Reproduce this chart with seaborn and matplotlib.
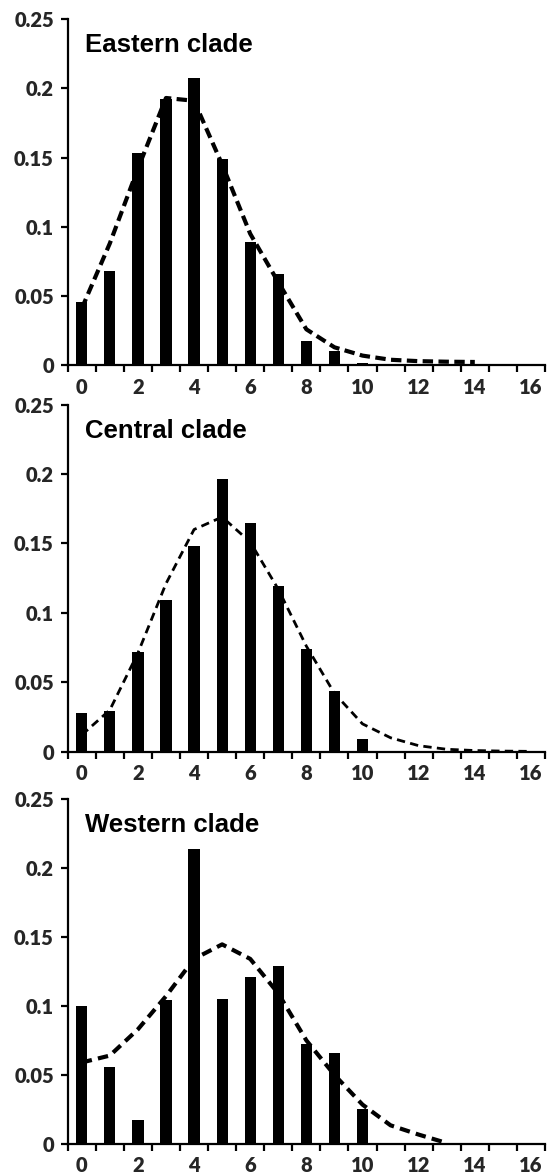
import numpy as np
import pandas as pd
import matplotlib
matplotlib.use("Agg")
import matplotlib.pyplot as plt
import seaborn as sns

# ---------------- data ----------------
categories = [str(i) for i in range(17)]
tick_labels = ["0", "2", "4", "6", "8", "10", "12", "14", "16"]
y_tick_labels = ["0", "0.05", "0.1", "0.15", "0.2", "0.25"]
y_tick_values = [0, 0.05, 0.1, 0.15, 0.2, 0.25]

panel_titles = ["Eastern clade", "Central clade", "Western clade"]

eastern_bars = [0.046, 0.068, 0.1535, 0.192, 0.2075, 0.149, 0.089, 0.066,
                0.0176, 0.0106, 0.0017, 0, 0, 0, 0, 0, 0]
eastern_fit = [0.041, 0.088, 0.142, 0.193, 0.191, 0.145, 0.095, 0.060,
               0.026, 0.013, 0.007, 0.004, 0.003, 0.0026, 0.0024]

central_bars = [0.028, 0.029, 0.072, 0.1094, 0.1483, 0.1964, 0.1647, 0.119,
                0.0738, 0.044, 0.009, 0, 0, 0, 0, 0, 0]
central_fit = [0.012, 0.030, 0.071, 0.121, 0.160, 0.169, 0.151, 0.117,
               0.076, 0.042, 0.020, 0.010, 0.0043, 0.0017, 0.0008, 0.0004, 0.0002]

western_bars = [0.100, 0.056, 0.017, 0.1042, 0.2132, 0.1047, 0.1206, 0.1288,
                0.0725, 0.066, 0.025, 0, 0, 0, 0, 0, 0]
western_fit = [0.059, 0.064, 0.083, 0.107, 0.134, 0.1445, 0.134, 0.109,
               0.075, 0.050, 0.0285, 0.0135, 0.0068, 0.0007]

bar_series = [eastern_bars, central_bars, western_bars]
fit_series = [eastern_fit, central_fit, western_fit]

# ---------------- style ----------------
line_widths = [3.0, 2.0, 3.0]
dash_patterns = [(2.5, 1.3), (3.0, 1.9), (2.5, 1.5)]

sns.set_theme(style="white")
plt.rcParams["font.family"] = ["Lato", "DejaVu Sans"]

fig = plt.figure(figsize=(5.5, 11.75), dpi=100)
left = 67.7 / 550
width = 477.3 / 550
axes_boxes = [
    (left, 0.6891, width, 0.2947),
    (left, 0.3603, width, 0.2954),
    (left, 0.0264, width, 0.2939),
]

for i, box in enumerate(axes_boxes):
    ax = fig.add_axes(box)
    df_bar = pd.DataFrame({"cat": categories, "freq": bar_series[i]})
    sns.barplot(data=df_bar, x="cat", y="freq", color="black", width=0.4,
                saturation=1, ax=ax, order=categories, linewidth=0)
    fit = fit_series[i]
    df_fit = pd.DataFrame({"pos": np.arange(len(fit)), "fit": fit})
    sns.lineplot(data=df_fit, x="pos", y="fit", ax=ax, color="black",
                 linewidth=line_widths[i], zorder=5)
    ax.lines[-1].set_dashes(dash_patterns[i])
    ax.lines[-1].set_dash_capstyle("butt")

    ax.set_xlim(-0.5, 16.5)
    ax.set_ylim(0, 0.25)
    ax.set_xlabel("")
    ax.set_ylabel("")

    # labels at even categories, ticks at category boundaries
    ax.set_xticks(np.arange(0, 17, 2))
    ax.set_xticklabels(tick_labels, fontsize=14.5, fontweight="heavy")
    ax.set_xticks(np.arange(-0.5, 17, 1), minor=True)
    ax.tick_params(axis="x", which="major", length=0, pad=9)
    ax.tick_params(axis="x", which="minor", length=5, width=1.6,
                   direction="out", bottom=True, color="black")

    ax.set_yticks(y_tick_values)
    ax.set_yticklabels(y_tick_labels, fontsize=14.5, fontweight="heavy")
    ax.tick_params(axis="y", which="major", length=5, width=1.6,
                   direction="out", left=True, color="black", pad=5)

    for s in ["top", "right"]:
        ax.spines[s].set_visible(False)
    for s in ["left", "bottom"]:
        ax.spines[s].set_linewidth(1.6)
        ax.spines[s].set_color("black")

    ax.text(0.036, 0.925, panel_titles[i], transform=ax.transAxes,
            fontsize=18.5, fontweight="bold", family=["Liberation Sans", "DejaVu Sans"],
            ha="left", va="center", color="black")
    ax.grid(False)

fig.savefig("out.png", dpi=100)
